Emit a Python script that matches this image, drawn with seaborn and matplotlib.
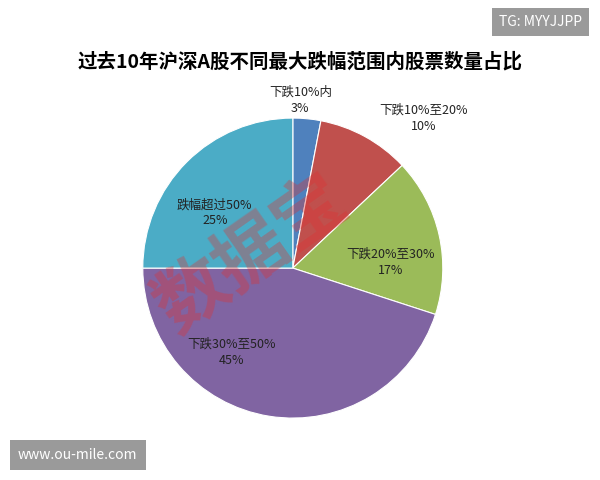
import matplotlib
matplotlib.use("Agg")
import matplotlib.pyplot as plt
import seaborn as sns

categories = ["下跌10%内", "下跌10%至20%", "下跌20%至30%", "下跌30%至50%", "跌幅超过50%"]
values = [3, 10, 17, 45, 25]
colors = ["#4F81BD", "#C0504D", "#9BBB59", "#8064A2", "#4BACC6"]
label_pos = [(0.05, 1.12), (0.87, 1.0), (0.65, 0.04), (-0.41, -0.56), (-0.52, 0.37)]

sns.set_theme(style="white")
plt.rcParams['font.family'] = ['Noto Sans CJK SC', 'DejaVu Sans']

fig = plt.figure(figsize=(6, 4.8), dpi=100)
fig.patch.set_facecolor("white")
ax = fig.add_axes([0.238, 0.129, 0.5, 0.625])
ax.pie(values, colors=colors, startangle=90, counterclock=False,
       wedgeprops=dict(edgecolor="white", linewidth=0.8))
ax.set_xlim(-1, 1); ax.set_ylim(-1, 1)
for c, v, (x, y) in zip(categories, values, label_pos):
    ax.text(x, y, f"{c}\n{v}%", ha="center", va="center", fontsize=9, color="#222222", linespacing=1.3)

fig.text(0.5, 0.872, "过去10年沪深A股不同最大跌幅范围内股票数量占比", ha="center", va="center",
         fontsize=14, fontweight="bold", color="black")
fig.text(0.42, 0.47, "数据宝", ha="center", va="center", fontsize=52, color="#E03030",
         alpha=0.35, rotation=35, fontweight="bold")
fig.text(0.97, 0.955, "TG: MYYJJPP", ha="right", va="center", fontsize=10, color="white",
         bbox=dict(facecolor="#9A9A9A", edgecolor="none", pad=5))
fig.text(0.03, 0.052, "www.ou-mile.com", ha="left", va="center", fontsize=10, color="white",
         bbox=dict(facecolor="#9A9A9A", edgecolor="none", pad=6))
fig.savefig("out.png", dpi=100)
